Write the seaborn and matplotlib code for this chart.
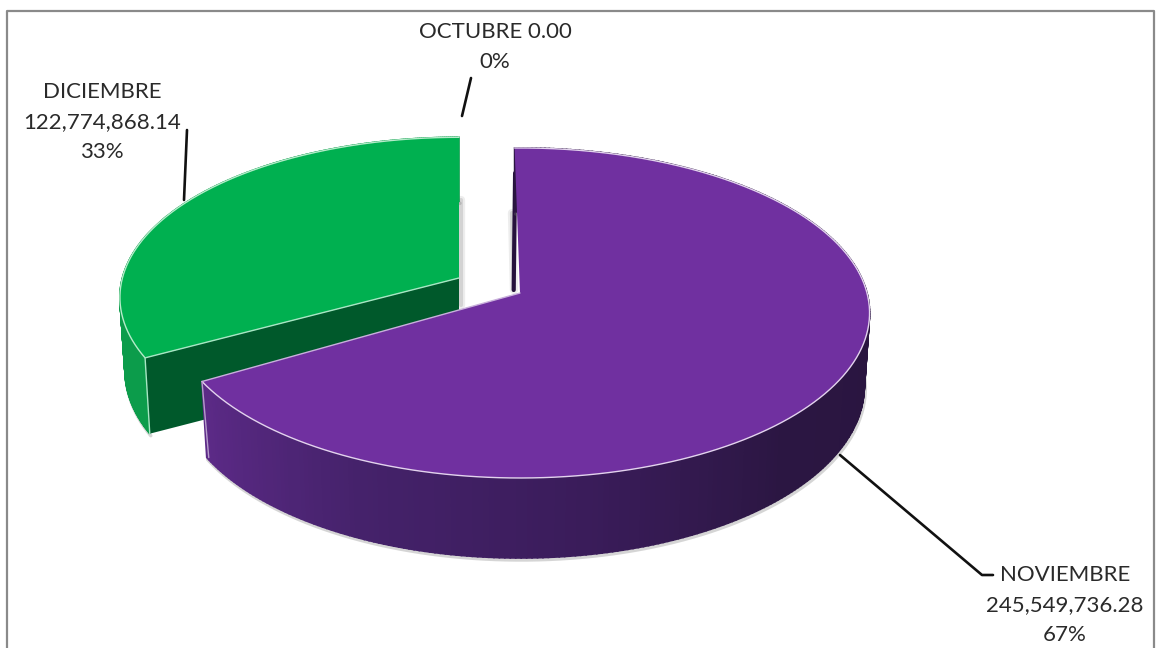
import numpy as np
import seaborn as sns
import matplotlib.pyplot as plt

# datos del grafico
meses = ['OCTUBRE', 'NOVIEMBRE', 'DICIEMBRE']
valores = [0.00, 245549736.28, 122774868.14]
porcentajes = ['0%', '67%', '33%']

sns.set_theme(style='white')
plt.rcParams['font.family'] = ['Lato', 'DejaVu Sans']

fig = plt.figure(figsize=(11.57, 6.48), dpi=100)
ax = fig.add_axes([0, 0, 1, 1])
ax.set_xlim(0, 1157)
ax.set_ylim(648, 0)
ax.axis('off')

# marco gris (la parte de abajo esta cortada en la imagen)
ax.plot([7, 7, 1154, 1154], [648, 11, 11, 648], color='#8a8a8a', lw=1.6, solid_capstyle='butt')

# angulos de cada porcion, en sentido horario desde arriba
total = sum(valores)
angulos = np.deg2rad(np.cumsum([0] + valores) / total * 360)

K = 0.121


def proyectar(t, r, cx, cy, esc=1.0, abajo=False):
    # perspectiva simple: el fondo del circulo se ve mas chico
    den = 1 + K * r * np.cos(t)
    x = 347 * esc * r * np.sin(t) / den
    y = -162.6 * esc * r * np.cos(t) / den
    if abajo:
        return cx + x * 0.985, cy + y + 72 - 8 * r * np.cos(t)
    return cx + x, cy + y


def porcion(t1, t2, cx, cy, esc, color, borde, lado, z):
    t = np.linspace(t1, t2, 300)
    # pared exterior por tramos, para el degradado
    colores = sns.blend_palette(lado, len(t) - 1)
    xa, ya = proyectar(t, 1, cx, cy, esc)
    xb, yb = proyectar(t, 1, cx, cy, esc, abajo=True)
    ax.plot(xb + 1, yb + 2, color='#777777', lw=2.5, alpha=0.3, zorder=z)
    for i, c in enumerate(colores):
        ax.fill([xa[i], xa[i + 1], xb[i + 1], xb[i]], [ya[i], ya[i + 1], yb[i + 1], yb[i]],
                color=c, lw=1.2, zorder=z + 0.1)
    # tapa
    ax.fill(np.r_[cx, xa], np.r_[cy, ya], color=color, lw=0, zorder=z + 0.3)
    ax.plot(xa, ya, color=borde, lw=1, zorder=z + 0.4)
    ax.plot(xb, yb, color=borde, lw=0.8, alpha=0.5, zorder=z + 0.05)
    return xa, ya, xb, yb


# DICIEMBRE: separada hacia la izquierda
t1, t2 = angulos[2] + np.deg2rad(1.5), angulos[3]
xa, ya, xb, yb = porcion(t1, t2, 459, 278, 0.97, '#00B050', '#b5ecca', ['#0c9c4b', '#0c9c4b'], 2)
ax.fill([459, xa[0], xb[0], 459], [278, ya[0], yb[0], 278 + 76], color='#00592b', lw=0, zorder=2.2)
ax.plot([459, xa[0], xb[0]], [278, ya[0], yb[0]], color='#a8e6c4', lw=1, zorder=2.5)

# sombras de los cortes
for ancho, alfa in [(6, 0.15), (3, 0.25)]:
    ax.plot([461, 461], [200, 305], color='#888888', lw=ancho, alpha=alfa, zorder=1.5)
    ax.plot([512, 514], [213, 290], color='#888888', lw=ancho, alpha=alfa, zorder=1.5)

# NOVIEMBRE
t1, t2 = angulos[1] - np.deg2rad(1), angulos[2] - np.deg2rad(0.7)
xa, ya, xb, yb = porcion(t1, t2, 520, 293, 1.0, '#7030A0', '#e3d3ee',
                         ['#2a1540', '#2a1540', '#2a1540', '#2a1540', '#2b1642', '#3a1c5a',
                          '#45226b', '#5c2a87'], 4)
ax.plot([xa[0] + 0.5, xb[0] - 1], [173, 290], color='#26123c', lw=3, zorder=3.8)
ax.plot([xa[-1], xb[-1] + 2], [ya[-1], yb[-1]], color='#b79ccc', lw=1, zorder=4.5)
ax.plot([520, xa[-1]], [293, ya[-1]], color='#c9b0dc', lw=1, zorder=4.5)

# lineas guia
for lx, ly in [([471, 462], [78, 116]), ([187, 184], [130, 200]), ([840, 982, 993], [455, 575, 575])]:
    ax.plot(lx, ly, color='#111111', lw=1.9, zorder=6)

# etiquetas
pos = [(495, 47), (1065, 605), (102, 122)]
for mes, v, p, (px, py) in zip(meses, valores, porcentajes, pos):
    sep = ' ' if v == 0 else '\n'
    ax.text(px, py, f'{mes}{sep}{v:,.2f}\n{p}', ha='center', va='center', fontsize=16,
            color='#2a2a2a', linespacing=1.6, zorder=7)

fig.savefig('out.png', dpi=100, facecolor='white')
